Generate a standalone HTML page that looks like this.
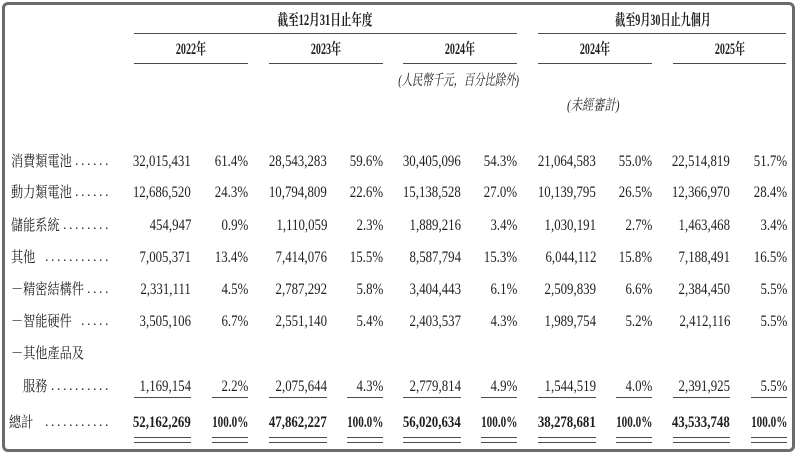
<!DOCTYPE html>
<html><head><meta charset="utf-8">
<style>
html,body{margin:0;padding:0;background:#fff;}
body{width:799px;height:456px;position:relative;overflow:hidden;font-family:"Liberation Serif","Noto Serif CJK SC",serif;color:#1e1e1e;}
.frame{position:absolute;left:2px;top:2px;width:793px;height:450px;box-sizing:border-box;border:3px solid #6b6b6b;border-radius:6px;}
.ln{position:absolute;height:1px;background:#4a4a4a;}
.r{position:absolute;left:0;width:799px;height:20px;}
.r span{position:absolute;top:0;line-height:20px;white-space:nowrap;font-size:15.5px;transform:scaleX(.83);transform-origin:100% 50%;}
.r span.l{left:11px;font-size:15px;transform:scaleX(.81);transform-origin:0 50%;}
.r span.l2{left:23px;font-size:15px;transform:scaleX(.81);transform-origin:0 50%;}
.r span.dt{right:688px;font-size:14px;letter-spacing:2.5px;transform:none;}
.a{right:608px}.b{right:551px}.c{right:472px}.d{right:416px}.e{right:338px}.f{right:282px}.g{right:203px}.h{right:147px}.i{right:69px}.j{right:12px}
.tot span{font-weight:bold;}
.tot span.b,.tot span.d,.tot span.f,.tot span.h,.tot span.j{transform:scaleX(.72);}
.hd{position:absolute;width:240px;text-align:center;line-height:20px;white-space:nowrap;font-weight:bold;font-size:15.5px;transform-origin:50% 50%;}
.it{position:absolute;line-height:20px;white-space:nowrap;font-style:italic;font-size:15px;}
</style></head><body>
<div class="frame"></div>

<!-- header titles -->
<div class="hd" style="left:205px;top:11px;transform:scaleX(.68);">截至12月31日止年度</div>
<div class="hd" style="left:543px;top:11px;transform:scaleX(.65);">截至9月30日止九個月</div>
<div class="ln" style="left:134px;top:33px;width:383px;"></div>
<div class="ln" style="left:538px;top:33px;width:248px;"></div>

<div class="hd" style="left:71px;top:40px;transform:scaleX(.65);">2022年</div>
<div class="hd" style="left:206px;top:40px;transform:scaleX(.65);">2023年</div>
<div class="hd" style="left:340px;top:40px;transform:scaleX(.65);">2024年</div>
<div class="hd" style="left:475px;top:40px;transform:scaleX(.65);">2024年</div>
<div class="hd" style="left:610px;top:40px;transform:scaleX(.65);">2025年</div>
<div class="ln" style="left:134px;top:63px;width:114px;"></div>
<div class="ln" style="left:269px;top:63px;width:114px;"></div>
<div class="ln" style="left:403px;top:63px;width:114px;"></div>
<div class="ln" style="left:538px;top:63px;width:114px;"></div>
<div class="ln" style="left:673px;top:63px;width:113px;"></div>

<div class="it" style="right:280px;top:71px;transform:scaleX(.69);transform-origin:100% 50%;">(人民幣千元，百分比除外)</div>
<div class="it" style="left:567px;top:96px;transform:scaleX(.75);transform-origin:0 50%;">(未經審計)</div>

<!-- rows -->
<div class="r" style="top:152px;"><span class="l">消費類電池</span><span class="dt">......</span>
<span class="a">32,015,431</span><span class="b">61.4%</span><span class="c">28,543,283</span><span class="d">59.6%</span><span class="e">30,405,096</span><span class="f">54.3%</span><span class="g">21,064,583</span><span class="h">55.0%</span><span class="i">22,514,819</span><span class="j">51.7%</span></div>

<div class="r" style="top:183px;"><span class="l">動力類電池</span><span class="dt">......</span>
<span class="a">12,686,520</span><span class="b">24.3%</span><span class="c">10,794,809</span><span class="d">22.6%</span><span class="e">15,138,528</span><span class="f">27.0%</span><span class="g">10,139,795</span><span class="h">26.5%</span><span class="i">12,366,970</span><span class="j">28.4%</span></div>

<div class="r" style="top:216px;"><span class="l">儲能系統</span><span class="dt">........</span>
<span class="a">454,947</span><span class="b">0.9%</span><span class="c">1,110,059</span><span class="d">2.3%</span><span class="e">1,889,216</span><span class="f">3.4%</span><span class="g">1,030,191</span><span class="h">2.7%</span><span class="i">1,463,468</span><span class="j">3.4%</span></div>

<div class="r" style="top:248px;"><span class="l">其他</span><span class="dt">...........</span>
<span class="a">7,005,371</span><span class="b">13.4%</span><span class="c">7,414,076</span><span class="d">15.5%</span><span class="e">8,587,794</span><span class="f">15.3%</span><span class="g">6,044,112</span><span class="h">15.8%</span><span class="i">7,188,491</span><span class="j">16.5%</span></div>

<div class="r" style="top:280px;"><span class="l">－精密結構件</span><span class="dt">....</span>
<span class="a">2,331,111</span><span class="b">4.5%</span><span class="c">2,787,292</span><span class="d">5.8%</span><span class="e">3,404,443</span><span class="f">6.1%</span><span class="g">2,509,839</span><span class="h">6.6%</span><span class="i">2,384,450</span><span class="j">5.5%</span></div>

<div class="r" style="top:312px;"><span class="l">－智能硬件</span><span class="dt">.....</span>
<span class="a">3,505,106</span><span class="b">6.7%</span><span class="c">2,551,140</span><span class="d">5.4%</span><span class="e">2,403,537</span><span class="f">4.3%</span><span class="g">1,989,754</span><span class="h">5.2%</span><span class="i">2,412,116</span><span class="j">5.5%</span></div>

<div class="r" style="top:344px;"><span class="l">－其他產品及</span></div>

<div class="r" style="top:377px;"><span class="l2">服務</span><span class="dt">..........</span>
<span class="a">1,169,154</span><span class="b">2.2%</span><span class="c">2,075,644</span><span class="d">4.3%</span><span class="e">2,779,814</span><span class="f">4.9%</span><span class="g">1,544,519</span><span class="h">4.0%</span><span class="i">2,391,925</span><span class="j">5.5%</span></div>

<!-- single underline -->
<div class="ln" style="left:134px;top:397px;width:57px;"></div>
<div class="ln" style="left:212px;top:397px;width:36px;"></div>
<div class="ln" style="left:269px;top:397px;width:58px;"></div>
<div class="ln" style="left:347px;top:397px;width:36px;"></div>
<div class="ln" style="left:403px;top:397px;width:58px;"></div>
<div class="ln" style="left:481px;top:397px;width:36px;"></div>
<div class="ln" style="left:538px;top:397px;width:58px;"></div>
<div class="ln" style="left:616px;top:397px;width:36px;"></div>
<div class="ln" style="left:673px;top:397px;width:57px;"></div>
<div class="ln" style="left:751px;top:397px;width:36px;"></div>

<div class="r tot" style="top:413px;"><span class="l" style="font-weight:normal;left:9px;">總計</span><span class="dt" style="font-weight:normal;">...........</span>
<span class="a">52,162,269</span><span class="b">100.0%</span><span class="c">47,862,227</span><span class="d">100.0%</span><span class="e">56,020,634</span><span class="f">100.0%</span><span class="g">38,278,681</span><span class="h">100.0%</span><span class="i">43,533,748</span><span class="j">100.0%</span></div>

<!-- double underline -->
<div class="ln" style="left:134px;top:437px;width:57px;"></div>
<div class="ln" style="left:212px;top:437px;width:36px;"></div>
<div class="ln" style="left:269px;top:437px;width:58px;"></div>
<div class="ln" style="left:347px;top:437px;width:36px;"></div>
<div class="ln" style="left:403px;top:437px;width:58px;"></div>
<div class="ln" style="left:481px;top:437px;width:36px;"></div>
<div class="ln" style="left:538px;top:437px;width:58px;"></div>
<div class="ln" style="left:616px;top:437px;width:36px;"></div>
<div class="ln" style="left:673px;top:437px;width:57px;"></div>
<div class="ln" style="left:751px;top:437px;width:36px;"></div>

<div class="ln" style="left:134px;top:442px;width:57px;"></div>
<div class="ln" style="left:212px;top:442px;width:36px;"></div>
<div class="ln" style="left:269px;top:442px;width:58px;"></div>
<div class="ln" style="left:347px;top:442px;width:36px;"></div>
<div class="ln" style="left:403px;top:442px;width:58px;"></div>
<div class="ln" style="left:481px;top:442px;width:36px;"></div>
<div class="ln" style="left:538px;top:442px;width:58px;"></div>
<div class="ln" style="left:616px;top:442px;width:36px;"></div>
<div class="ln" style="left:673px;top:442px;width:57px;"></div>
<div class="ln" style="left:751px;top:442px;width:36px;"></div>
</body></html>
